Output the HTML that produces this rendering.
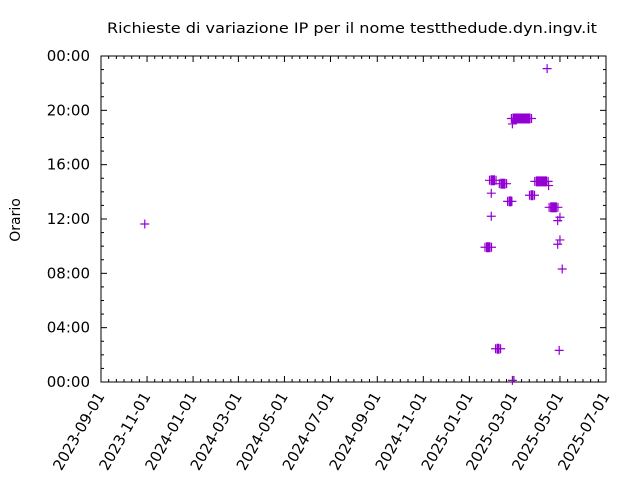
<!DOCTYPE html>
<html><head><meta charset="utf-8"><style>
html,body{margin:0;padding:0;background:#fff;}
svg{display:block;font-family:"DejaVu Sans","Liberation Sans",sans-serif;}
</style></head><body>
<svg id="chart" width="640" height="480" xmlns="http://www.w3.org/2000/svg">
<text x="352" y="33" text-anchor="middle" font-size="14" textLength="490" lengthAdjust="spacingAndGlyphs">Richieste di variazione IP per il nome testthedude.dyn.ingv.it</text>
<text transform="translate(20,220) rotate(-90)" text-anchor="middle" font-size="14">Orario</text>
<g id="axes"></g>
<g id="marks"></g>
</svg>
<script>
// x: days since 2023-09-01 ; y: hour of day
const xTickLabels = ["2023-09-01","2023-11-01","2024-01-01","2024-03-01","2024-05-01","2024-07-01","2024-09-01","2024-11-01","2025-01-01","2025-03-01","2025-05-01","2025-07-01"];
const xTickDays = [0,61,122,182,243,304,366,427,488,547,608,669];
const yTickLabels = ["00:00","04:00","08:00","12:00","16:00","20:00","00:00"];
const yTickHours = [0,4,8,12,16,20,24];
// single requests
const pointDays  = [58,591,545,517,593,517,608,605,608,605,611,607,545];
const pointHours = [11.63,23.07,19.0,13.9,14.46,12.2,12.13,11.88,10.46,10.14,8.32,2.33,0.12];
// clusters of many requests: start day, end day, hour
const clusterStart = [545,516,529,576,595,510,524,540,569];
const clusterEnd   = [569,522,536,591,604,516,528,543,573];
const clusterHours = [19.4,14.85,14.6,14.77,12.86,9.92,2.45,13.3,13.75];

const L=101,R=606,T=56,B=382,XMAX=669;
const xS=d=>L+(d/XMAX)*(R-L);
const yS=h=>B-(h/24)*(B-T);
const NS="http://www.w3.org/2000/svg";
function mk(tag,attrs,parent){const e=document.createElementNS(NS,tag);for(const k in attrs)e.setAttribute(k,attrs[k]);parent.appendChild(e);return e;}
const ax=document.getElementById('axes'), mg=document.getElementById('marks');
const frame=mk('rect',{x:L,y:T,width:R-L,height:B-T,fill:'none',stroke:'#000','stroke-width':1},ax);


for(let h=0;h<=24;h++){
  const y=yS(h), major=h%4===0, len=major?6:3;
  mk('line',{x1:L,y1:y,x2:L+len,y2:y,stroke:'#000'},ax);
  mk('line',{x1:R,y1:y,x2:R-len,y2:y,stroke:'#000'},ax);
}
yTickLabels.forEach((lab,i)=>{
  const t=mk('text',{x:L-11,y:yS(yTickHours[i])+5,'text-anchor':'end','font-size':15},ax);
  t.textContent=lab;
  
  
});
for(let i=0;i<xTickDays.length;i++){
  const x=xS(xTickDays[i]);
  mk('line',{x1:x,y1:B,x2:x,y2:B-6,stroke:'#000'},ax);
  mk('line',{x1:x,y1:T,x2:x,y2:T+6,stroke:'#000'},ax);
  if(i<xTickDays.length-1){
    const step=(xTickDays[i+1]-xTickDays[i])/6;
    for(let k=1;k<6;k++){const xm=xS(xTickDays[i]+k*step);
      mk('line',{x1:xm,y1:B,x2:xm,y2:B-3,stroke:'#000'},ax);
      mk('line',{x1:xm,y1:T,x2:xm,y2:T+3,stroke:'#000'},ax);}
  }
  const t=mk('text',{x:0,y:0,'text-anchor':'end','font-size':15,transform:`translate(${x+4},${B+14}) rotate(-60)`},ax);
  t.textContent=xTickLabels[i];
  
  
}
const C='#9400d3';
function plus(x,y){mk('path',{d:`M${x-4.5},${y}h9M${x},${y-4.5}v9`,stroke:C,'stroke-width':1.2,fill:'none'},mg);}
pointDays.forEach((d,i)=>{
  const g=mk('g',{},mg);
  
  
  plus(xS(d),yS(pointHours[i]));
});
clusterStart.forEach((s,i)=>{
  const x1=xS(s),x2=xS(clusterEnd[i]),y=yS(clusterHours[i]);
  const r=mk('rect',{x:x1,y:y-5,width:Math.max(3,x2-x1),height:10,fill:C},mg);
  
  
  plus(x1-1,y);plus(x2+1,y);
});
</script>
</body></html>
